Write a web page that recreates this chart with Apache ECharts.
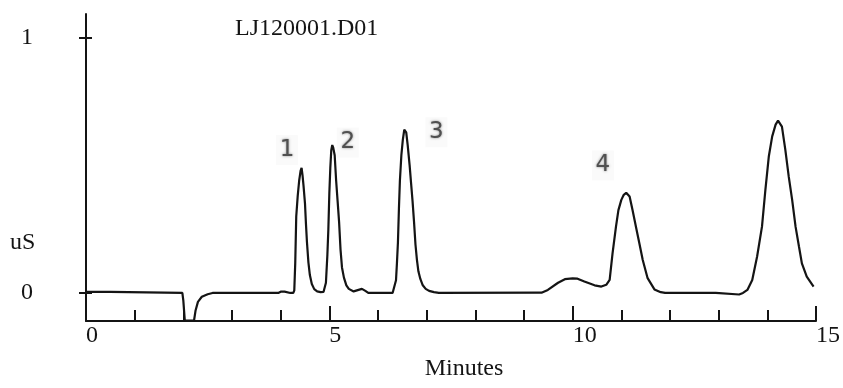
<!DOCTYPE html>
<html>
<head>
<meta charset="utf-8">
<script src="https://cdn.jsdelivr.net/npm/echarts@6/dist/echarts.min.js"></script>
<style>
  html, body { margin: 0; padding: 0; background: #fff; }
  #chart { width: 843px; height: 388px; }
</style>
</head>
<body>
<div id="chart"></div>
<script>
// Chromatogram trace: retention time (min) and conductivity (uS)
const times = [
  0, 0.5, 0.52, 1.98, 2.0, 2.03, 2.22, 2.25, 2.30, 2.38, 2.50, 2.60,
  3.95, 4.00, 4.08, 4.12, 4.20, 4.26, 4.28, 4.30, 4.32, 4.35, 4.38, 4.41,
  4.43, 4.45, 4.47, 4.50, 4.52, 4.54, 4.57, 4.60, 4.64, 4.69, 4.75, 4.82,
  4.88, 4.90, 4.93, 4.96, 4.98, 5.00, 5.02, 5.04, 5.06, 5.08, 5.11, 5.14,
  5.17, 5.20, 5.23, 5.26, 5.30, 5.35, 5.40, 5.50, 5.60, 5.67, 5.74, 5.80,
  6.30, 6.34, 6.37, 6.39, 6.41, 6.43, 6.45, 6.48, 6.51, 6.54, 6.56, 6.58,
  6.61, 6.65, 6.68, 6.71, 6.74, 6.77, 6.80, 6.83, 6.87, 6.92, 6.98, 7.05,
  7.15, 7.25, 9.36, 9.49, 9.70, 9.84, 10.00, 10.10, 10.24, 10.45, 10.59, 10.69,
  10.76, 10.82, 10.89, 10.94, 11.00, 11.05, 11.10, 11.17, 11.23, 11.30, 11.37, 11.44,
  11.54, 11.68, 11.81, 11.90, 12.94, 12.98, 13.42, 13.50, 13.59, 13.69, 13.79, 13.89,
  13.96, 14.03, 14.10, 14.17, 14.22, 14.30, 14.37, 14.44, 14.51, 14.58, 14.65, 14.71,
  14.81, 14.95
];
const signal = [
  0.004, 0.004, 0.0, 0.0, -0.03, -0.108, -0.108, -0.07, -0.035, -0.015, -0.005, 0.0,
  0.0, 0.005, 0.005, -0.002, 0.0, 0.0, 0.01, 0.12, 0.30, 0.38, 0.44, 0.48,
  0.49, 0.46, 0.42, 0.35, 0.27, 0.20, 0.12, 0.07, 0.035, 0.015, 0.006, 0.003,
  0.004, 0.006, 0.04, 0.15, 0.25, 0.39, 0.49, 0.56, 0.58, 0.57, 0.54, 0.44,
  0.36, 0.28, 0.17, 0.10, 0.06, 0.03, 0.016, 0.006, 0.012, 0.016, 0.008, 0.0,
  0.0, 0.005, 0.05, 0.12, 0.20, 0.33, 0.44, 0.54, 0.60, 0.64, 0.647, 0.63,
  0.58, 0.50, 0.43, 0.36, 0.28, 0.19, 0.13, 0.085, 0.055, 0.03, 0.016, 0.008,
  0.003, 0.0, 0.001, 0.012, 0.040, 0.054, 0.057, 0.056, 0.045, 0.030, 0.025, 0.032,
  0.051, 0.156, 0.26, 0.325, 0.365, 0.385, 0.393, 0.378, 0.325, 0.26, 0.195, 0.129,
  0.058, 0.014, 0.003, 0.0, 0.0, -0.006, -0.006, 0.0, 0.012, 0.051, 0.143, 0.26,
  0.404, 0.535, 0.614, 0.66, 0.676, 0.652, 0.561, 0.456, 0.365, 0.26, 0.182, 0.116,
  0.064, 0.025
];

// Axis ticks
const xTicks = [0, 5, 10, 15];
const yTicks = [0, 1];

// Peak numbers and where they sit (time, uS)
const peakNames = ['1', '2', '3', '4'];
const peakLabelTimes = [4.13, 5.38, 7.20, 10.62];
const peakLabelValues = [0.56, 0.59, 0.63, 0.50];

const serif = '"Liberation Serif", "DejaVu Serif", serif';
const ink = '#141414';

const chart = echarts.init(document.getElementById('chart'), null, { renderer: 'canvas' });

const trace = times.map((t, i) => [t, signal[i]]);
const peakMarks = peakNames.map((n, i) => ({
  name: n,
  coord: [peakLabelTimes[i], peakLabelValues[i]],
  value: n
}));

chart.setOption({
  animation: false,
  backgroundColor: '#ffffff',
  title: {
    text: 'LJ120001.D01',
    left: 230,
    top: 12,
    textStyle: { fontFamily: serif, fontSize: 24, fontWeight: 'normal', color: ink }
  },
  grid: { left: 86, right: 24, top: 14, bottom: 67, containLabel: false },
  xAxis: {
    type: 'value',
    min: xTicks[0],
    max: xTicks[xTicks.length - 1],
    interval: 5,
    name: 'Minutes',
    nameLocation: 'middle',
    nameGap: 36,
    nameTextStyle: { fontFamily: serif, fontSize: 24, color: ink, padding: [0, 0, 0, 26] },
    axisLine: { onZero: false, lineStyle: { color: ink, width: 2 } },
    axisTick: { inside: true, length: 15, lineStyle: { color: ink, width: 2 } },
    minorTick: { show: true, splitNumber: 5, length: 11, lineStyle: { color: ink, width: 2 } },
    axisLabel: {
      fontFamily: serif, fontSize: 24, color: ink,
      align: 'left', margin: 3,
      showMinLabel: true, showMaxLabel: true
    },
    splitLine: { show: false },
    minorSplitLine: { show: false }
  },
  yAxis: [
    {
      type: 'value',
      min: -0.11,
      max: 1.094,
      position: 'left',
      axisLine: { show: true, lineStyle: { color: ink, width: 2 } },
      axisTick: { show: true, customValues: yTicks, length: 7, lineStyle: { color: ink, width: 2 } },
      axisLabel: {
        customValues: yTicks,
        fontFamily: serif, fontSize: 24, color: ink,
        margin: 53
      },
      splitLine: { show: false }
    },
    {
      // inner half of the crossing tick marks
      type: 'value',
      min: -0.11,
      max: 1.094,
      position: 'left',
      axisLine: { show: false },
      axisTick: { show: true, inside: true, customValues: yTicks, length: 6, lineStyle: { color: ink, width: 2 } },
      axisLabel: { show: false },
      splitLine: { show: false }
    }
  ],
  graphic: [
    {
      type: 'text',
      left: 10,
      top: 231,
      style: { text: 'uS', font: '24px "Liberation Serif", "DejaVu Serif", serif', fill: ink }
    }
  ],
  series: [
    {
      type: 'line',
      data: trace,
      xAxisIndex: 0,
      yAxisIndex: 0,
      showSymbol: false,
      smooth: false,
      clip: true,
      lineStyle: { color: ink, width: 2.2 },
      markPoint: {
        symbol: 'rect',
        symbolSize: [22, 30],
        itemStyle: { color: '#fafafa' },
        label: {
          show: true,
          formatter: p => p.name,
          fontFamily: '"DejaVu Sans", "Noto Sans", sans-serif',
          fontSize: 23,
          color: '#505050',
          textShadowColor: 'rgba(80,80,80,0.7)',
          textShadowBlur: 2.5
        },
        data: peakMarks
      }
    }
  ]
});
</script>
</body>
</html>
